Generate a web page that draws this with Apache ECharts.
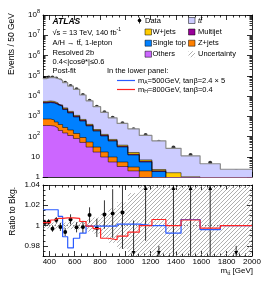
<!DOCTYPE html>
<html><head><meta charset="utf-8">
<script src="https://cdn.jsdelivr.net/npm/echarts@6/dist/echarts.min.js"></script>
<style>html,body{margin:0;padding:0;background:#fff}#c{width:266px;height:291px}</style>
</head><body><div id="c"></div>
<script>
// ---------------- data ----------------
const binEdges = [350,380,410,440,470,505,545,590,640,690,745,805,865,935,1020,1110,1210,1320,1440,1590,1750,2000];
const others    = [349,349,330,263,198,149,112,80,51,30,17,9.7,5.5,3.3,2.0,0.9,0.5,0.3,0.2,0.15,0.1];
const zJets     = [382,382,323,257,193,129,97,61,38,23,13,7.5,4.2,2.2,1.1,1.1,0.3,0.15,0.1,0.05,0.05];
const singleTop = [3780,4040,3860,3280,2640,1880,1240,780,490,280,155,89,50,25,9.1,3.5,1.07,0.35,0.3,0.2,0.1];
const multijet  = [360,380,360,300,240,170,115,73,47,26,15,8,4.5,2.4,1.2,0.5,0.15,0.05,0.02,0.01,0.01];
const wJets     = [540,570,540,460,360,260,175,110,70,40,22,13,7.5,4.5,2.8,1.0,0.33,0.78,0.4,0.3,0.2];
const ttbar     = [67400,76000,76800,68000,54500,43100,29300,20300,10500,5400,2740,1430,768,407,222,106,59,24.4,10.1,3.8,1.95];
const dataEvents = [73000,82000,82000,73000,58000,45400,31200,21400,11200,5860,2960,1570,848,449,227,119,55,28.6,12.2,5.1,2.0];
const dataRatio    = [1.0027,1.0034,0.9969,1.0054,0.9987,0.9936,1.0061,0.9983,0.9987,1.0105,0.9977,1.0109,1.0119,1.013,0.955,1.06,0.90,1.10,1.12,1.15,0.85];
const dataRatioErr = [0.003,0.003,0.003,0.003,0.004,0.004,0.005,0.005,0.006,0.0075,0.009,0.014,0.024,0.036,0.05,0.075,0.08,0.15,0.2,0.25,0.13];
const bkgUnc       = [0.003,0.003,0.003,0.003,0.003,0.003,0.0035,0.004,0.004,0.006,0.008,0.012,0.017,0.023,0.032,0.045,0.06,0.08,0.1,0.13,0.16];
const ratioA500 = [1.0156,1.0156,1.0156,1.0156,1.009,0.989,0.978,0.9875,0.9925,0.9995,0.9995,0.9995,0.9995,1.0015,1.0015,1.0,1.0,0.9925,1.006,0.996,1.0];
const ratioH800 = [1.003,1.003,1.0055,1.007,1.007,1.0075,1.0075,1.007,1.004,0.9995,0.997,0.9875,0.986,0.9895,0.9935,1.0,1.006,1.0,1.0055,0.9975,1.0];
const xMajorTicks = [400,600,800,1000,1200,1400,1600,1800,2000];
const yTopDecades = [1,10,100,1e3,1e4,1e5,1e6,1e7,1e8];
const yRatioLabels = [0.98,1,1.02,1.04];

// ---------------- helpers ----------------
const FONT = 'Liberation Sans';
const X_MIN = 350, X_MAX = 2000, R_MIN = 0.97, R_MAX = 1.04;
const nBins = binEdges.length - 1;
const centers = binEdges.slice(0, -1).map((e, i) => (e + binEdges[i + 1]) / 2);
const cum = arrs => Array.from({length: nBins}, (_, i) => arrs.reduce((s, a) => s + a[i], 0));
const stepData = vals => { const d = vals.map((v, i) => [binEdges[i], v]); d.push([binEdges[nBins], vals[nBins - 1]]); return d; };

const xMinor = []; for (let v = 350; v <= 2000; v += 50) if (xMajorTicks.indexOf(v) < 0) xMinor.push(v);
const yTopMinor = []; for (let k = 0; k < 8; k++) for (let m = 2; m <= 9; m++) yTopMinor.push(m * Math.pow(10, k));
const yRatioMinor = []; for (let v = 0.97; v <= 1.0401; v += 0.005) { const r = Math.round(v * 1000) / 1000; if (yRatioLabels.indexOf(r) < 0) yRatioMinor.push(r); }

// hatch pattern
const pc = document.createElement('canvas'); pc.width = 4; pc.height = 4;
const pctx = pc.getContext('2d'); pctx.strokeStyle = '#8c8c8c'; pctx.lineWidth = 0.7;
pctx.beginPath(); pctx.moveTo(0, 4); pctx.lineTo(4, 0); pctx.moveTo(-1, 1); pctx.lineTo(1, -1); pctx.moveTo(3, 5); pctx.lineTo(5, 3); pctx.stroke();
const hatch = {image: pc, repeat: 'repeat'};

const lineSt = {color: '#000', width: 0.8};
function xAx(gi, pos, ticks, len, showLabel, showLine) {
  return {type: 'value', gridIndex: gi, position: pos, min: X_MIN, max: X_MAX,
    axisLine: {show: showLine, onZero: false, lineStyle: lineSt},
    axisTick: {show: true, inside: true, length: len, customValues: ticks, lineStyle: lineSt},
    axisLabel: {show: showLabel, customValues: xMajorTicks, fontSize: 8, fontFamily: FONT, color: '#000', margin: 2,
      formatter: v => String(Math.round(v))},
    splitLine: {show: false}};
}
function yTopAx(pos, ticks, len, showLabel, showLine) {
  return {type: 'log', logBase: 10, gridIndex: 0, position: pos, min: 1, max: 1e8,
    axisLine: {show: showLine, onZero: false, lineStyle: lineSt},
    axisTick: {show: true, inside: true, length: len, customValues: ticks, lineStyle: lineSt},
    axisLabel: {show: showLabel, customValues: yTopDecades, fontFamily: FONT, color: '#000', margin: 3,
      formatter: v => { const e = Math.round(Math.log10(v)); return e === 0 ? '{b|1}' : e === 1 ? '{b|10}' : '{b|10}{s|' + e + '}'; },
      rich: {b: {fontSize: 8, lineHeight: 13, fontFamily: FONT, color: '#000'},
             s: {fontSize: 5.5, lineHeight: 6, fontFamily: FONT, color: '#000', verticalAlign: 'top'}}},
    splitLine: {show: false}};
}
function yBotAx(pos, ticks, len, showLabel, showLine) {
  return {type: 'value', gridIndex: 1, position: pos, min: R_MIN, max: R_MAX,
    axisLine: {show: showLine, onZero: false, lineStyle: lineSt},
    axisTick: {show: true, inside: true, length: len, customValues: ticks, lineStyle: lineSt},
    axisLabel: {show: showLabel, customValues: yRatioLabels, fontSize: 8, fontFamily: FONT, color: '#000', margin: 3,
      formatter: v => String(Math.round(v * 100) / 100)},
    splitLine: {show: false}};
}

const xAxes = [
  xAx(0, 'bottom', xMajorTicks, 5, false, true), xAx(0, 'bottom', xMinor, 2.5, false, false),
  xAx(0, 'top', xMajorTicks, 5, false, true), xAx(0, 'top', xMinor, 2.5, false, false),
  xAx(1, 'bottom', xMajorTicks, 5, true, true), xAx(1, 'bottom', xMinor, 2.5, false, false),
  xAx(1, 'top', xMajorTicks, 5, false, true), xAx(1, 'top', xMinor, 2.5, false, false)
];
const yAxes = [
  yTopAx('left', yTopDecades, 5, true, true), yTopAx('left', yTopMinor, 2.5, false, false),
  yTopAx('right', yTopDecades, 5, false, true), yTopAx('right', yTopMinor, 2.5, false, false),
  yBotAx('left', yRatioLabels, 5, true, true), yBotAx('left', yRatioMinor, 2.5, false, false),
  yBotAx('right', yRatioLabels, 5, false, true), yBotAx('right', yRatioMinor, 2.5, false, false)
];

// ---------------- top panel stacks ----------------
const stackDefs = [
  {arrs: [others, zJets, singleTop, multijet, wJets, ttbar], color: '#ccccff', line: '#8a8a8a', lw: 1.2},
  {arrs: [others, zJets, singleTop, multijet, wJets], color: '#ffcc00'},
  {arrs: [others, zJets, singleTop, multijet], color: '#990099'},
  {arrs: [others, zJets, singleTop], color: '#0080ff'},
  {arrs: [others, zJets], color: '#ff8000'},
  {arrs: [others], color: '#cc66ff'}
];
const series = [];
stackDefs.forEach(s => {
  series.push({type: 'line', xAxisIndex: 0, yAxisIndex: 0, step: 'end', symbol: 'none', clip: true, silent: true,
    data: stepData(cum(s.arrs)),
    lineStyle: {color: s.line || '#000', width: s.lw || 0.5},
    areaStyle: {color: s.color, opacity: 1, origin: 'start'}});
});
series.push({type: 'scatter', xAxisIndex: 0, yAxisIndex: 0, symbol: 'circle', symbolSize: 4, silent: true,
  itemStyle: {color: '#000'}, data: centers.map((c, i) => [c, dataEvents[i]])});

// ---------------- ratio panel ----------------
series.push({type: 'custom', xAxisIndex: 4, yAxisIndex: 4, clip: true, silent: true,
  data: binEdges.slice(0, -1).map((e, i) => [e, binEdges[i + 1], 1 - bkgUnc[i], 1 + bkgUnc[i]]),
  encode: {x: [0, 1], y: [2, 3]},
  renderItem: (p, api) => {
    const lo = Math.max(api.value(2), R_MIN), hi = Math.min(api.value(3), R_MAX);
    const a = api.coord([api.value(0), lo]), b = api.coord([api.value(1), hi]);
    return {type: 'rect', shape: {x: a[0], y: b[1], width: b[0] - a[0], height: a[1] - b[1]}, style: {fill: hatch}};
  }});
series.push({type: 'line', xAxisIndex: 4, yAxisIndex: 4, symbol: 'none', silent: true,
  data: [[X_MIN, 1], [X_MAX, 1]], lineStyle: {color: '#444', width: 0.7, type: [1, 2]}});
series.push({type: 'line', xAxisIndex: 4, yAxisIndex: 4, step: 'end', symbol: 'none', clip: true, silent: true,
  data: stepData(ratioA500), lineStyle: {color: '#2a5bff', width: 1.2}});
series.push({type: 'line', xAxisIndex: 4, yAxisIndex: 4, step: 'end', symbol: 'none', clip: true, silent: true,
  data: stepData(ratioH800), lineStyle: {color: '#ff2424', width: 1.2}});
series.push({type: 'custom', xAxisIndex: 4, yAxisIndex: 4, clip: false, silent: true,
  data: centers.map((c, i) => [c, dataRatio[i], dataRatioErr[i]]),
  encode: {x: 0, y: 1},
  renderItem: (p, api) => {
    const x = api.value(0), r = api.value(1), e = api.value(2);
    const lo = Math.max(r - e, R_MIN), hi = Math.min(r + e, R_MAX);
    const ch = [];
    if (hi > lo) {
      const a = api.coord([x, lo]), b = api.coord([x, hi]);
      ch.push({type: 'line', shape: {x1: a[0], y1: a[1], x2: b[0], y2: b[1]}, style: {stroke: '#000', lineWidth: 0.8}});
    }
    if (r > R_MAX) {
      const t = api.coord([x, R_MAX]);
      ch.push({type: 'polygon', shape: {points: [[t[0], t[1] + 1], [t[0] - 2, t[1] + 5], [t[0] + 2, t[1] + 5]]}, style: {fill: '#000'}});
    } else if (r < R_MIN) {
      const t = api.coord([x, R_MIN]);
      ch.push({type: 'polygon', shape: {points: [[t[0], t[1] - 1], [t[0] - 2, t[1] - 5], [t[0] + 2, t[1] - 5]]}, style: {fill: '#000'}});
    } else {
      const c = api.coord([x, r]);
      ch.push({type: 'circle', shape: {cx: c[0], cy: c[1], r: 2}, style: {fill: '#000'}});
    }
    return {type: 'group', children: ch};
  }});

// ---------------- texts & legend ----------------
const T = (x, y, text, extra) => Object.assign({type: 'text', x, y, silent: true,
  style: Object.assign({text, fontFamily: FONT, fontSize: 7.5, fill: '#000', verticalAlign: 'middle'}, extra || {})});
const box = (x, y, fill) => ({type: 'rect', silent: true, shape: {x, y: y - 3, width: 6.5, height: 6}, style: {fill, stroke: '#000', lineWidth: 0.5}});
const supRich = {n: {fontSize: 7.5, lineHeight: 11, fontFamily: FONT}, s: {fontSize: 5, lineHeight: 5, fontFamily: FONT, verticalAlign: 'top'}};
const subRich = {n: {fontSize: 7.5, lineHeight: 10, fontFamily: FONT}, u: {fontSize: 5, lineHeight: 5, fontFamily: FONT, verticalAlign: 'bottom'}};
const rowY = [20.5, 32, 43.2, 54.2];
const c1 = 145, c2 = 188.5;
const graphics = [
  T(52.5, 22, 'ATLAS', {fontSize: 8.5, fontWeight: 'bold', fontStyle: 'italic'}),
  T(52.5, 33, '{n|√s = 13 TeV, 140 fb}{s|-1}', {rich: supRich}),
  T(52.5, 43.3, 'A/H → tt\u0304, 1-lepton'),
  T(52.5, 52.7, 'Resolved 2b'),
  T(52.5, 61.8, '0.4<|cosθ*|≤0.6'),
  T(52.5, 70.8, 'Post-fit'),
  {type: 'line', silent: true, shape: {x1: 139.5, y1: rowY[0] - 3, x2: 139.5, y2: rowY[0] + 3}, style: {stroke: '#000', lineWidth: 0.8}},
  {type: 'circle', silent: true, shape: {cx: 139.5, cy: rowY[0], r: 1.8}, style: {fill: '#000'}},
  T(145, rowY[0], 'Data'),
  box(c2, rowY[0], '#ccccff'), T(c2 + 9.5, rowY[0], 'tt\u0304', {fontStyle: 'italic'}),
  box(c1, rowY[1], '#ffcc00'), T(c1 + 7.5, rowY[1], 'W+jets'),
  box(c2, rowY[1], '#990099'), T(c2 + 9.5, rowY[1], 'Multijet'),
  box(c1, rowY[2], '#0080ff'), T(c1 + 7.5, rowY[2], 'Single top'),
  box(c2, rowY[2], '#ff8000'), T(c2 + 9.5, rowY[2], 'Z+jets'),
  box(c1, rowY[3], '#cc66ff'), T(c1 + 7.5, rowY[3], 'Others'),
  {type: 'rect', silent: true, shape: {x: c2, y: rowY[3] - 3, width: 6.5, height: 6}, style: {fill: hatch}},
  T(c2 + 9.5, rowY[3], 'Uncertainty'),
  T(107, 71, 'In the lower panel:'),
  {type: 'line', silent: true, shape: {x1: 117, y1: 80.5, x2: 135, y2: 80.5}, style: {stroke: '#2a5bff', lineWidth: 1.2}},
  T(138, 80.5, '{n|m}{u|A}{n|=500GeV, tanβ=2.4 × 5}', {rich: subRich}),
  {type: 'line', silent: true, shape: {x1: 117, y1: 89.5, x2: 135, y2: 89.5}, style: {stroke: '#ff2424', lineWidth: 1.2}},
  T(138, 89.5, '{n|m}{u|H}{n|=800GeV, tanβ=0.4}', {rich: subRich}),
  Object.assign(T(12, 13, 'Events / 50 GeV', {fontSize: 8.5, align: 'right'}), {rotation: Math.PI / 2}),
  Object.assign(T(13, 187, 'Ratio to Bkg.', {fontSize: 8.5, align: 'right'}), {rotation: Math.PI / 2}),
  T(253, 271, '{n|m}{u|tt\u0304}{n| [GeV]}', {align: 'right', rich: {n: {fontSize: 8, lineHeight: 11, fontFamily: FONT}, u: {fontSize: 5.5, lineHeight: 6, fontFamily: FONT, verticalAlign: 'bottom'}}})
];

const chart = echarts.init(document.getElementById('c'), null, {renderer: 'canvas'});
chart.setOption({
  animation: false,
  backgroundColor: '#fff',
  grid: [
    {left: 43, top: 15, width: 209, height: 162, containLabel: false, outerBoundsMode: 'none'},
    {left: 43, top: 185, width: 209, height: 71, containLabel: false, outerBoundsMode: 'none'}
  ],
  xAxis: xAxes,
  yAxis: yAxes,
  series: series,
  graphic: graphics
});
</script></body></html>
